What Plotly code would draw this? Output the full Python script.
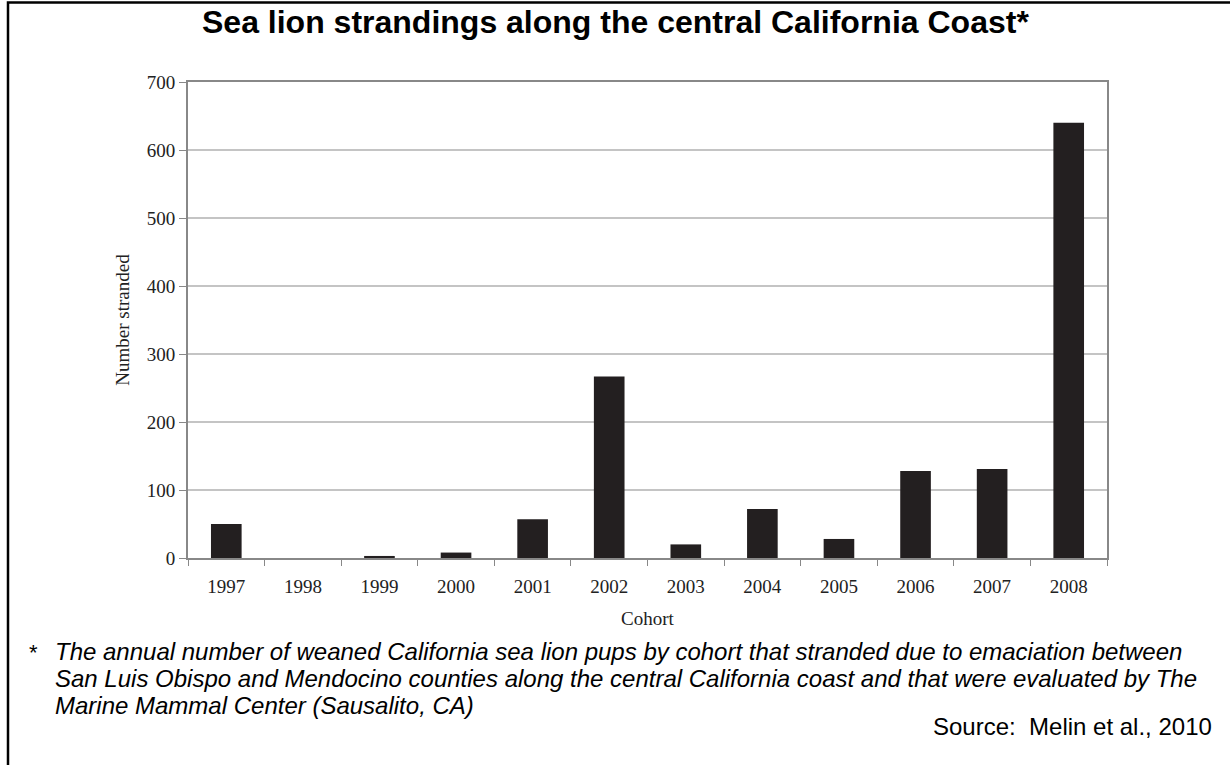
import plotly.graph_objects as go

# data
cohorts = ['1997', '1998', '1999', '2000', '2001', '2002',
           '2003', '2004', '2005', '2006', '2007', '2008']
stranded = [50, 0, 3, 8, 57, 267, 20, 72, 28, 128, 131, 640]

title_text = "Sea lion strandings along the central California Coast*"
footnote_lines = [
    "The annual number of weaned California sea lion pups by cohort that stranded due to emaciation between",
    "San Luis Obispo and Mendocino counties along the central California coast and that were evaluated by The",
    "Marine Mammal Center (Sausalito, CA)",
]
source_text = "Source:  Melin et al., 2010"

W, H = 1230, 765
L, R, T, B = 188, 123, 82, 207
pw, ph = W - L - R, H - T - B


def px(x):
    return (x - L) / pw


def py(y):
    return (H - B - y) / ph


fig = go.Figure()
fig.add_trace(go.Bar(x=cohorts, y=stranded, width=0.4,
                     marker=dict(color='#231f20', line=dict(width=0))))

serif = "Liberation Serif"
sans = "Liberation Sans"
axfont = dict(family=serif, size=19, color='#222')

fig.update_layout(
    width=W, height=H,
    margin=dict(l=L, r=R, t=T, b=B),
    paper_bgcolor='white', plot_bgcolor='white',
    showlegend=False,
    font=axfont,
)
fig.update_xaxes(type='category', tickson='boundaries', ticks='outside', ticklen=6,
                 tickcolor='#888', showline=True, linecolor='#888', linewidth=2,
                 mirror=True, showgrid=False, tickfont=axfont, ticklabelstandoff=10,
                 title=dict(text='Cohort', font=axfont, standoff=16))
fig.update_yaxes(range=[0, 700], dtick=100, ticks='outside', ticklen=7, tickcolor='#888',
                 showline=True, linecolor='#888', linewidth=2, mirror=True,
                 showgrid=True, gridcolor='#c4c4c4', gridwidth=2, zeroline=False,
                 tickfont=axfont,
                 title=dict(text='Number stranded', font=axfont, standoff=12))

# title
fig.add_annotation(text="<b>%s</b>" % title_text, xref='paper', yref='paper',
                   x=px(615), y=py(22), showarrow=False, xanchor='center', yanchor='middle',
                   font=dict(family=sans, size=32, color='black'))

# footnote
fig.add_annotation(text="*", xref='paper', yref='paper', x=px(33), y=py(652),
                   showarrow=False, xanchor='center', yanchor='middle',
                   font=dict(family=sans, size=22, color='black'))
for i, line in enumerate(footnote_lines):
    fig.add_annotation(text="<i>%s</i>" % line, xref='paper', yref='paper',
                       x=px(53), y=py(651 + 27 * i), showarrow=False,
                       xanchor='left', yanchor='middle',
                       font=dict(family=sans, size=24, color='black'))
fig.add_annotation(text=source_text, xref='paper', yref='paper', x=px(1214), y=py(726),
                   showarrow=False, xanchor='right', yanchor='middle',
                   font=dict(family=sans, size=24, color='black'))

# outer frame (only left and top edges fall inside the picture)
fig.add_shape(type='rect', xref='paper', yref='paper',
              x0=px(8), x1=px(1245), y0=py(780), y1=py(2.5),
              line=dict(color='black', width=2.5))

fig.write_html("out.html", config={'displayModeBar': False},
               post_script="document.body.style.margin='0';document.body.style.overflow='hidden';")
